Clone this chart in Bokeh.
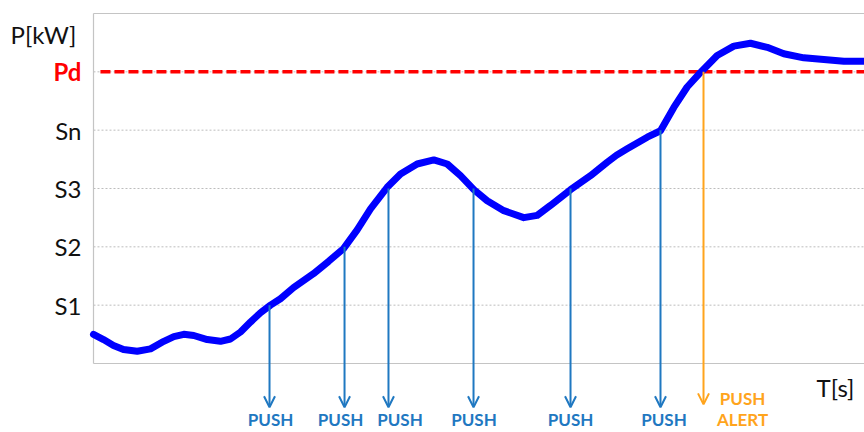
from bokeh.plotting import figure
from bokeh.models import Range1d, Arrow, OpenHead, ColumnDataSource
from bokeh.core.properties import value
from bokeh.embed import file_html
from bokeh.resources import INLINE

# ---- data ----
time_s = [0.0, 1.30, 2.59, 3.89, 5.67, 7.39, 9.12, 10.42, 11.71, 13.01, 14.75,
          16.47, 17.77, 19.07, 20.36, 21.66, 22.96, 24.25, 25.94, 28.53, 30.48,
          32.43, 34.20, 35.93, 38.09, 39.82, 41.98, 44.14, 45.88, 47.60, 49.33,
          51.06, 53.22, 55.81, 57.55, 59.27, 61.87, 64.46, 66.63, 67.83, 69.22,
          71.82, 73.54, 75.27, 77.00, 78.73, 80.89, 83.05, 85.21, 87.38, 89.53,
          92.13, 94.72, 97.32, 100.0]
power = [0.50, 0.41, 0.31, 0.24, 0.21, 0.25, 0.38, 0.46, 0.50, 0.48, 0.41,
         0.38, 0.42, 0.54, 0.71, 0.87, 1.00, 1.11, 1.30, 1.54, 1.75,
         1.97, 2.29, 2.65, 3.02, 3.25, 3.42, 3.49, 3.42, 3.22, 2.98,
         2.79, 2.62, 2.50, 2.54, 2.71, 2.98, 3.22, 3.45, 3.57, 3.68,
         3.88, 3.99, 4.39, 4.74, 4.99, 5.28, 5.44, 5.49, 5.42, 5.31,
         5.24, 5.21, 5.18, 5.18]

level_names = ["S1", "S2", "S3", "Sn", "Pd"]
level_values = [1, 2, 3, 4, 5]
top_level = 6
pd_level = 5

push_times = [22.83, 32.56, 38.26, 49.29, 61.87, 73.54]
push_levels = [1, 2, 3, 3, 3, 4]
push_label_x = [22.96, 32.04, 39.75, 49.35, 61.87, 73.99]
push_labels = ["PUSH"] * 6
alert_time = 79.12
alert_level = 5
alert_labels = ["PUSH", "ALERT"]

y_title = "P[kW]"
x_title = "T[s]"

# ---- styles ----
FONT = value("Lato")
BLUE_CURVE = "#0000FF"
BLUE_PUSH = "#1F78C1"
ORANGE = "#FFA41C"
RED = "#FF0000"
GRID = "#BDBDBD"

p = figure(width=864, height=432,
           x_range=Range1d(-12.062, 100), y_range=Range1d(-1.183, 6.223),
           output_backend="svg", toolbar_location=None,
           x_axis_type=None, y_axis_type=None, min_border=0)
p.outline_line_color = None
p.background_fill_color = "white"

t0, t1 = time_s[0], time_s[-1]

# grid lines (dotted) at level values
p.segment(x0=t0, x1=t1, y0=level_values, y1=level_values,
          line_color=GRID, line_width=1, line_dash="2 2")
# frame lines: top, bottom, left
p.segment(x0=[t0, t0], x1=[t1, t1], y0=[top_level, 0], y1=[top_level, 0],
          line_color="#C4C4C4", line_width=1.2)
p.segment(x0=[t0], x1=[t0], y0=[0], y1=[top_level],
          line_color="#C4C4C4", line_width=1.2)

# Pd dashed red line
p.segment(x0=[t0 + 0.9], x1=[t1], y0=[pd_level], y1=[pd_level],
          line_color=RED, line_width=3.5, line_dash="10 4")

# arrows
arrow_end = -0.75
src = ColumnDataSource(dict(x=push_times, y=push_levels,
                            ye=[arrow_end] * len(push_times)))
p.add_layout(Arrow(end=OpenHead(size=11, line_color=BLUE_PUSH, line_width=2),
                   x_start="x", y_start="y", x_end="x", y_end="ye",
                   source=src, line_color=BLUE_PUSH, line_width=2))
asrc = ColumnDataSource(dict(x=[alert_time], y=[alert_level], ye=[arrow_end + 0.05]))
p.add_layout(Arrow(end=OpenHead(size=11, line_color=ORANGE, line_width=2),
                   x_start="x", y_start="y", x_end="x", y_end="ye",
                   source=asrc, line_color=ORANGE, line_width=2))

# curve
p.line(time_s, power, line_color=BLUE_CURVE, line_width=7,
       line_join="round", line_cap="round")

# y level labels
lab_x = -1.56
p.text(x=[lab_x] * 4, y=level_values[:4], text=level_names[:4],
       text_font=FONT, text_font_size="24px", text_color="#111111",
       text_align="right", text_baseline="middle")
p.text(x=[lab_x], y=[level_values[4]], text=[level_names[4]],
       text_font=FONT, text_font_size="24px", text_color=RED,
       text_font_style="bold", text_align="right", text_baseline="middle")
p.text(x=[-10.75], y=[5.64], text=[y_title], text_font=FONT,
       text_font_size="24px", text_color="#111111",
       text_align="left", text_baseline="middle")
p.text(x=[96.24], y=[-0.41], text=[x_title], text_font=FONT,
       text_font_size="24px", text_color="#111111",
       text_align="center", text_baseline="middle")

# PUSH labels
p.text(x=push_label_x, y=[-0.965] * len(push_label_x), text=push_labels,
       text_font=FONT, text_font_size="17px", text_font_style="bold",
       text_color=BLUE_PUSH, text_align="center", text_baseline="middle")
p.text(x=[84.18, 84.18], y=[-0.605, -0.965], text=alert_labels,
       text_font=FONT, text_font_size="17px", text_font_style="bold",
       text_color=ORANGE, text_align="center", text_baseline="middle")

open("out.html", "w").write(file_html(p, INLINE))
